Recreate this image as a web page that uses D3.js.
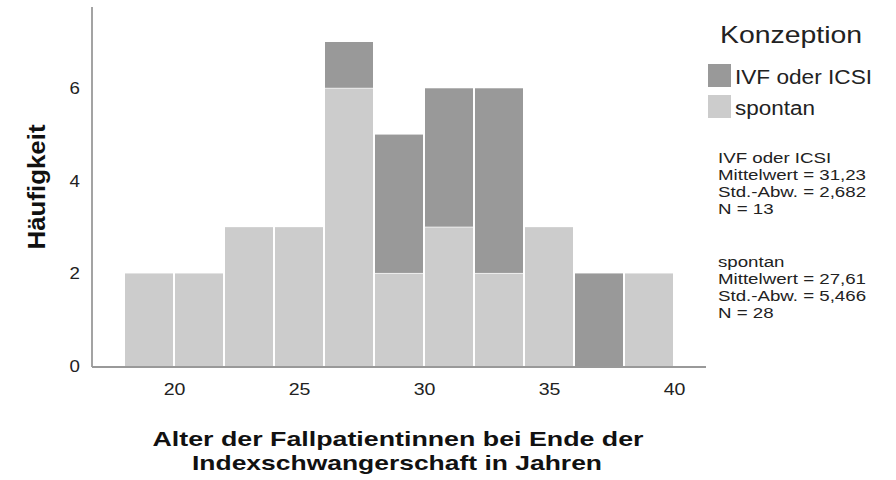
<!DOCTYPE html>
<html><head><meta charset="utf-8">
<script src="https://cdn.jsdelivr.net/npm/d3@7"></script>
<style>body{margin:0;background:#fff}svg{display:block}text{font-family:"Liberation Sans",Arial,sans-serif}</style>
</head><body><svg id="c" width="896" height="480"></svg>
<script>
// Histogram bins (age in years, bin width 2)
const binStarts = [18, 20, 22, 24, 26, 28, 30, 32, 34, 36, 38];
const spontan   = [2, 2, 3, 3, 6, 2, 3, 2, 3, 0, 2];
const ivf       = [0, 0, 0, 0, 1, 3, 3, 4, 0, 2, 0];
const binWidth = 2;
const xTicks = [20, 25, 30, 35, 40];
const yTicks = [0, 2, 4, 6];
const seriesNames = ["IVF oder ICSI", "spontan"];
const seriesColors = ["#999999", "#cccccc"];
const statsIVF = ["IVF oder ICSI", "Mittelwert = 31,23", "Std.-Abw. = 2,682", "N = 13"];
const statsSpontan = ["spontan", "Mittelwert = 27,61", "Std.-Abw. = 5,466", "N = 28"];

const svg = d3.select("#c");
const x = d3.scaleLinear().domain([18, 40]).range([124, 674]);
const y = d3.scaleLinear().domain([0, 7]).range([366, 42]);

function stretch(sel, f) {
  sel.each(function () {
    const w = this.getComputedTextLength();
    d3.select(this).attr("textLength", w * f).attr("lengthAdjust", "spacingAndGlyphs");
  });
}

// bars: spontan at bottom, IVF stacked on top
const g = svg.append("g");
binStarts.forEach((b, i) => {
  const x0 = x(b), x1 = x(b + binWidth);
  if (spontan[i] > 0) {
    g.append("rect").attr("x", x0 + 1).attr("width", x1 - x0 - 2)
      .attr("y", y(spontan[i])).attr("height", y(0) - y(spontan[i]))
      .attr("fill", seriesColors[1]);
  }
  if (ivf[i] > 0) {
    g.append("rect").attr("x", x0 + 1).attr("width", x1 - x0 - 2)
      .attr("y", y(spontan[i] + ivf[i])).attr("height", y(spontan[i]) - y(spontan[i] + ivf[i]))
      .attr("fill", seriesColors[0]);
  }
  if (spontan[i] > 0 && ivf[i] > 0) {
    g.append("line").attr("x1", x0 + 1).attr("x2", x1 - 1)
      .attr("y1", y(spontan[i])).attr("y2", y(spontan[i]))
      .attr("stroke", "#eeeeee").attr("stroke-width", 1);
  }
});

// axes lines
svg.append("line").attr("x1", 92).attr("x2", 92).attr("y1", 7).attr("y2", y(0) + 1)
  .attr("stroke", "#666").attr("stroke-width", 1.2);
svg.append("line").attr("x1", 92).attr("x2", 706).attr("y1", y(0) + 1).attr("y2", y(0) + 1)
  .attr("stroke", "#999").attr("stroke-width", 2);

const yAxis = d3.axisLeft(y).tickValues(yTicks).tickSize(0).tickPadding(0).tickFormat(d3.format("d"));
const ya = svg.append("g").attr("transform", "translate(80,0)").call(yAxis);
ya.select(".domain").remove();
ya.selectAll("text").attr("font-size", 17).attr("fill", "#222").attr("font-family", "Liberation Sans, Arial").call(stretch, 1.1);

const xAxis = d3.axisBottom(x).tickValues(xTicks).tickSize(0).tickPadding(0).tickFormat(d3.format("d"));
const xa = svg.append("g").attr("transform", "translate(0,383)").call(xAxis);
xa.select(".domain").remove();
xa.selectAll("text").attr("font-size", 17).attr("fill", "#222").attr("font-family", "Liberation Sans, Arial").call(stretch, 1.15);

// axis titles
svg.append("text").attr("transform", "translate(45,187) rotate(-90)")
  .attr("text-anchor", "middle").attr("font-size", 23).attr("font-weight", "bold").attr("fill", "#111")
  .attr("textLength", 125).attr("lengthAdjust", "spacingAndGlyphs")
  .text("Häufigkeit");
svg.append("text").attr("x", 398).attr("y", 446).attr("text-anchor", "middle")
  .attr("font-size", 21).attr("font-weight", "bold").attr("fill", "#111")
  .attr("textLength", 491).attr("lengthAdjust", "spacingAndGlyphs")
  .text("Alter der Fallpatientinnen bei Ende der");
svg.append("text").attr("x", 397).attr("y", 470).attr("text-anchor", "middle")
  .attr("font-size", 21).attr("font-weight", "bold").attr("fill", "#111")
  .attr("textLength", 410).attr("lengthAdjust", "spacingAndGlyphs")
  .text("Indexschwangerschaft in Jahren");

// legend
svg.append("text").attr("x", 720).attr("y", 43).attr("font-size", 24).attr("fill", "#222")
  .attr("textLength", 142).attr("lengthAdjust", "spacingAndGlyphs").text("Konzeption");
const legW = [137, 80];
seriesNames.forEach((n, i) => {
  svg.append("rect").attr("x", 708).attr("y", 64 + i * 31).attr("width", 23).attr("height", 23)
    .attr("fill", seriesColors[i]);
  svg.append("text").attr("x", 735).attr("y", 84 + i * 31).attr("font-size", 20).attr("fill", "#222")
    .attr("textLength", legW[i]).attr("lengthAdjust", "spacingAndGlyphs").text(n);
});

// stats (slightly condensed vertically, as in the reference)
function stats(lines, y0) {
  lines.forEach((l, i) => {
    const by = y0 + i * 17;
    svg.append("g").attr("transform", `translate(0,${by}) scale(1,0.86)`)
      .append("text").attr("x", 718).attr("y", 0).attr("font-size", 17).attr("fill", "#222")
      .text(l).call(stretch, 1.1);
  });
}
stats(statsIVF, 163);
stats(statsSpontan, 267);
</script></body></html>
